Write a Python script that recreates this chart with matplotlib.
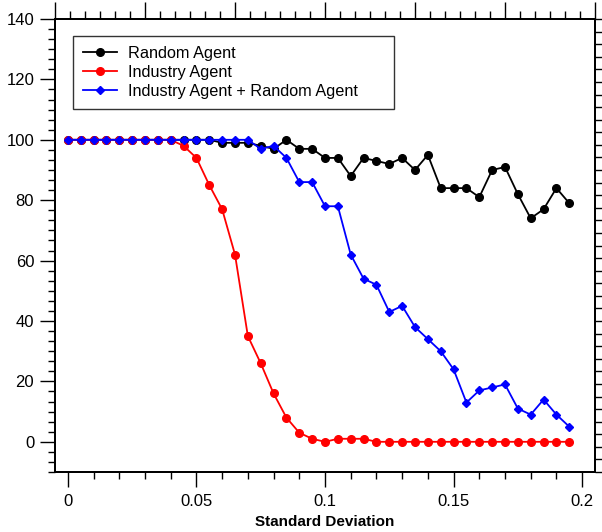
import numpy as np
import matplotlib
matplotlib.use("Agg")
import matplotlib.pyplot as plt
from matplotlib.ticker import MultipleLocator

plt.rcParams["font.family"] = ["Liberation Sans", "DejaVu Sans"]

# Data
std_dev = np.arange(40) * 0.005

random_agent = [100, 100, 100, 100, 100, 100, 100, 100, 100, 100, 100, 100,
                99, 99, 99, 98, 97, 100, 97, 97, 94, 94, 88, 94, 93, 92,
                94, 90, 95, 84, 84, 84, 81, 90, 91, 82, 74, 77, 84, 79]
industry_agent = [100, 100, 100, 100, 100, 100, 100, 100, 100, 98, 94, 85,
                  77, 62, 35, 26, 16, 8, 3, 1, 0, 1, 1, 1, 0, 0, 0, 0, 0, 0,
                  0, 0, 0, 0, 0, 0, 0, 0, 0, 0]
combined_agent = [100, 100, 100, 100, 100, 100, 100, 100, 100, 100, 100, 100,
                  100, 100, 100, 97, 98, 94, 86, 86, 78, 78, 62, 54, 52, 43,
                  45, 38, 34, 30, 24, 13, 17, 18, 19, 11, 9, 14, 9, 5]

labels = ["Random Agent", "Industry Agent", "Industry Agent + Random Agent"]

fig = plt.figure(figsize=(6.02, 5.32), dpi=100)
ax = fig.add_axes([55 / 602, 60 / 532, 540 / 602, 453 / 532])

ax.plot(std_dev, random_agent, color="black", lw=1.3, marker="o", ms=5.5,
        label=labels[0], zorder=3)
ax.plot(std_dev, industry_agent, color="red", lw=1.3, marker="o", ms=5.5,
        label=labels[1], zorder=4)
ax.plot(std_dev, combined_agent, color="blue", lw=1.3, marker="D", ms=4,
        label=labels[2], zorder=5)

ax.set_xlim(-0.005, 0.205)
ax.set_ylim(-10, 140)
ax.set_xticks([0, 0.05, 0.1, 0.15, 0.2])
ax.set_xticklabels(["0", "0.05", "0.1", "0.15", "0.2"])
ax.xaxis.set_minor_locator(MultipleLocator(0.01))
ax.set_yticks(np.arange(0, 141, 20))
ax.yaxis.set_minor_locator(MultipleLocator(10 / 3))
ax.tick_params(which="major", direction="out", length=11, width=1,
               labelsize=12, pad=4, top=False, right=False)
ax.tick_params(axis="x", which="major", pad=5)
ax.tick_params(which="minor", direction="out", length=5, width=1,
               top=False, right=False)
ax.set_xlabel("Standard Deviation", fontsize=11, fontweight="bold", labelpad=4)

# top and right axes carry their own unlabeled ticks
top = ax.twiny()
top.set_xlim(0, 6)
top.xaxis.set_major_locator(MultipleLocator(1))
top.xaxis.set_minor_locator(MultipleLocator(1 / 6))
top.tick_params(which="major", direction="out", length=12, width=1, labeltop=False)
top.tick_params(which="minor", direction="out", length=6, width=1)

right = ax.twinx()
right.set_ylim(0, 36)
right.yaxis.set_major_locator(MultipleLocator(1))
right.tick_params(which="major", direction="out", length=6, width=1, labelright=False)

for a in (ax, top, right):
    for s in a.spines.values():
        s.set_linewidth(1.2)

leg = ax.legend(loc="upper left", bbox_to_anchor=(0.033, 0.815, 0.595, 0.148),
                mode="expand", numpoints=1, fontsize=11.7, frameon=True,
                fancybox=False, edgecolor="black", handlelength=2.1,
                handletextpad=0.7, labelspacing=0.26, borderpad=0.6,
                borderaxespad=0)
leg.get_frame().set_linewidth(1.0)
leg.set_zorder(10)

fig.savefig("out.png", dpi=100)
